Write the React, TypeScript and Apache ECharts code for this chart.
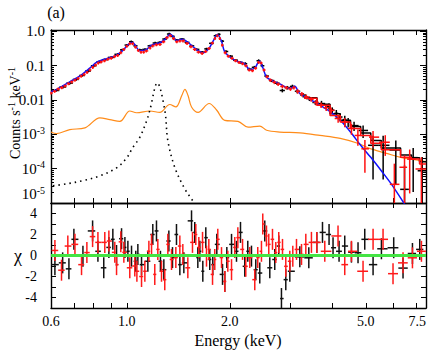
import React, { useEffect, useRef } from 'react';
import * as echarts from 'echarts';

const FONT = 'Liberation Serif, Times New Roman, DejaVu Serif, serif';

// Axis ticks / labels
const energyTicks = [0.7, 0.8, 0.9, 1, 2, 3, 4, 5, 6, 7];
const energyLabels = [0.6, 1.0, 2.0, 5.0, 7.5];
const countDecades = [1e-5, 1e-4, 1e-3, 0.01, 0.1, 1];
const countLabels = ['10{s|-5}', '10{s|-4}', '10{s|-3}', '0.01', '0.1', '1.0'];
const chiLabels = [-4, -2, 0, 2, 4];

// Total model (blue)
const modelE = [0.6, 0.616, 0.637, 0.681, 0.728, 0.779, 0.815, 0.852, 0.89, 0.933, 0.97, 1.0, 1.02, 1.04, 1.06, 1.09, 1.14, 1.18, 1.25, 1.29, 1.34, 1.37, 1.4, 1.45, 1.51, 1.58, 1.67, 1.74, 1.8, 1.84, 1.89, 1.93, 2.0, 2.09, 2.21, 2.29, 2.37, 2.44, 2.5, 2.56, 2.68, 2.8, 2.92, 3.0, 3.1, 3.2, 3.43, 3.67, 3.93, 4.21, 4.51, 4.83, 5.17, 5.55, 5.94, 6.5];
const modelV = [0.0175, 0.019, 0.023, 0.034, 0.05, 0.085, 0.125, 0.15, 0.17, 0.205, 0.27, 0.38, 0.457, 0.479, 0.38, 0.275, 0.295, 0.4, 0.468, 0.575, 0.83, 0.69, 0.537, 0.589, 0.479, 0.324, 0.24, 0.324, 0.589, 0.813, 0.537, 0.263, 0.182, 0.138, 0.115, 0.076, 0.087, 0.138, 0.087, 0.047, 0.0355, 0.0295, 0.0234, 0.0219, 0.0251, 0.0158, 0.0105, 0.0071, 0.00457, 0.00257, 0.00117, 0.00048, 0.000214, 0.000087, 0.0000355, 0.0000091];

// Second component (orange)
const softE = [0.6, 0.623, 0.681, 0.754, 0.834, 0.892, 0.954, 1.02, 1.067, 1.168, 1.249, 1.335, 1.391, 1.45, 1.478, 1.51, 1.546, 1.616, 1.741, 1.83, 1.934, 2.115, 2.262, 2.448, 2.564, 2.8, 3.21, 3.67, 4.21, 4.76, 5.13, 5.75, 6.32, 7.18, 7.5];
const softV = [0.00117, 0.00105, 0.00138, 0.00155, 0.00302, 0.00269, 0.0024, 0.00479, 0.00427, 0.00479, 0.00437, 0.00741, 0.0063, 0.0141, 0.0204, 0.0135, 0.0063, 0.00437, 0.00794, 0.00513, 0.00257, 0.0024, 0.00162, 0.00174, 0.00132, 0.00117, 0.0011, 0.00093, 0.00076, 0.00054, 0.00039, 0.00028, 0.000214, 0.000174, 0.000158];

// Line component (dotted)
const lineE = [0.608, 0.668, 0.743, 0.834, 0.935, 1.0, 1.041, 1.091, 1.144, 1.168, 1.228, 1.291, 1.318, 1.382, 1.478, 1.56, 1.6];
const lineV = [3.16e-5, 3.63e-5, 4.47e-5, 6.17e-5, 1.07e-4, 2.09e-4, 4.17e-4, 8.13e-4, 2.57e-3, 5.13e-3, 0.0316, 5.13e-3, 6.6e-4, 1.07e-4, 2.57e-5, 1.15e-5, 7.9e-6];

// Folded model steps above 3.3 keV
const foldE = [3.3, 3.6, 3.93, 4.21, 4.51, 4.83, 5.17, 5.55, 6.32, 6.8, 7.18, 7.5];
const foldRed = [0.0112, 0.0071, 0.00355, 0.0023, 0.00148, 0.00093, 0.00055, 0.000355, 0.000214, 0.00019, 0.000138, 0.000138];
const foldBlack = [0.0117, 0.0076, 0.004, 0.0026, 0.0017, 0.0011, 0.00066, 0.0004, 0.00025, 0.00021, 0.00016, 0.00016];

// Spectra: [energy keV, counts, relative error]
const blackSpectrum = [
  [0.62, 0.019, 0.1], [0.65, 0.024, 0.1], [0.68, 0.031, 0.1], [0.71, 0.04, 0.1], [0.74, 0.052, 0.08], [0.77, 0.07, 0.08], [0.8, 0.1, 0.08], [0.83, 0.13, 0.08], [0.86, 0.15, 0.08], [0.9, 0.175, 0.08], [0.94, 0.215, 0.08], [0.97, 0.29, 0.08], [1.0, 0.4, 0.08], [1.03, 0.5, 0.08], [1.06, 0.38, 0.08], [1.09, 0.29, 0.08], [1.13, 0.3, 0.08], [1.17, 0.38, 0.08], [1.21, 0.46, 0.08], [1.25, 0.48, 0.08], [1.29, 0.6, 0.08], [1.33, 0.84, 0.08], [1.36, 0.72, 0.08], [1.4, 0.56, 0.08], [1.45, 0.6, 0.08], [1.5, 0.48, 0.08], [1.55, 0.38, 0.08], [1.6, 0.3, 0.08], [1.66, 0.25, 0.08], [1.71, 0.31, 0.08], [1.77, 0.45, 0.08], [1.82, 0.75, 0.08], [1.86, 0.82, 0.08], [1.9, 0.52, 0.08], [1.95, 0.26, 0.08], [2.01, 0.19, 0.08], [2.08, 0.145, 0.08], [2.15, 0.125, 0.08], [2.22, 0.115, 0.1], [2.28, 0.08, 0.1], [2.36, 0.09, 0.1], [2.43, 0.14, 0.1], [2.49, 0.1, 0.1], [2.56, 0.05, 0.1], [2.65, 0.037, 0.1], [2.75, 0.031, 0.12], [2.85, 0.019, 0.12], [2.95, 0.023, 0.12], [3.05, 0.025, 0.12], [3.15, 0.018, 0.12], [3.28, 0.014, 0.15], [3.42, 0.011, 0.15], [3.56, 0.0085, 0.15], [3.71, 0.0079, 0.2], [3.9, 0.0066, 0.2], [3.99, 0.0051, 0.2], [4.1, 0.0041, 0.25], [4.21, 0.0032, 0.25], [4.34, 0.0027, 0.3], [4.44, 0.0023, 0.3], [4.62, 0.0018, 0.3], [4.91, 0.0013, 0.4], [5.25, 0.00048, 0.9], [5.62, 0.00048, 0.9], [6.12, 0.00035, 0.9], [6.49, 0.000025, 4], [6.88, 0.00021, 0.9], [7.31, 0.000087, 1.5],
];
const redSpectrum = [
  [0.6, 0.016, 0.1], [0.615, 0.018, 0.1], [0.63, 0.021, 0.1], [0.645, 0.023, 0.1], [0.66, 0.026, 0.1], [0.675, 0.03, 0.1], [0.69, 0.034, 0.1], [0.705, 0.038, 0.1], [0.72, 0.043, 0.1], [0.735, 0.05, 0.1], [0.75, 0.056, 0.1], [0.765, 0.064, 0.1], [0.78, 0.075, 0.1], [0.795, 0.09, 0.1], [0.81, 0.105, 0.1], [0.825, 0.12, 0.1], [0.84, 0.13, 0.1], [0.86, 0.14, 0.1], [0.88, 0.155, 0.1], [0.9, 0.165, 0.1], [0.92, 0.185, 0.1], [0.94, 0.2, 0.1], [0.96, 0.24, 0.1], [0.98, 0.3, 0.1], [1.0, 0.37, 0.1], [1.02, 0.44, 0.1], [1.04, 0.44, 0.1], [1.06, 0.35, 0.1], [1.08, 0.28, 0.1], [1.1, 0.25, 0.1], [1.12, 0.25, 0.1], [1.14, 0.27, 0.1], [1.17, 0.33, 0.1], [1.19, 0.38, 0.1], [1.22, 0.41, 0.1], [1.25, 0.42, 0.1], [1.28, 0.5, 0.1], [1.31, 0.66, 0.1], [1.34, 0.75, 0.1], [1.37, 0.62, 0.1], [1.4, 0.5, 0.1], [1.43, 0.53, 0.1], [1.46, 0.53, 0.1], [1.5, 0.45, 0.1], [1.54, 0.36, 0.1], [1.58, 0.3, 0.1], [1.62, 0.25, 0.1], [1.66, 0.23, 0.1], [1.7, 0.26, 0.1], [1.74, 0.32, 0.1], [1.78, 0.46, 0.1], [1.81, 0.62, 0.1], [1.84, 0.75, 0.1], [1.87, 0.62, 0.1], [1.9, 0.4, 0.1], [1.94, 0.24, 0.1], [1.98, 0.19, 0.1], [2.03, 0.165, 0.1], [2.08, 0.14, 0.1], [2.13, 0.125, 0.1], [2.18, 0.115, 0.1], [2.23, 0.1, 0.1], [2.28, 0.075, 0.1], [2.33, 0.072, 0.1], [2.38, 0.085, 0.1], [2.43, 0.125, 0.1], [2.47, 0.12, 0.1], [2.52, 0.075, 0.1], [2.57, 0.048, 0.1], [2.63, 0.038, 0.12], [2.7, 0.033, 0.12], [2.77, 0.029, 0.12], [2.85, 0.025, 0.12], [2.93, 0.023, 0.12], [3.01, 0.021, 0.12], [3.08, 0.023, 0.12], [3.16, 0.018, 0.15], [3.25, 0.015, 0.15], [3.35, 0.0125, 0.15], [3.46, 0.0105, 0.15], [3.58, 0.0085, 0.18], [3.7, 0.0072, 0.18], [3.83, 0.006, 0.2], [3.96, 0.005, 0.2], [4.15, 0.0029, 0.25], [4.34, 0.0023, 0.3], [4.54, 0.0015, 0.35], [4.74, 0.00093, 0.5], [4.97, 0.00038, 0.8], [5.25, 0.00083, 0.5], [5.7, 0.00059, 0.6], [6.06, 0.000035, 3], [6.49, 0.00011, 1.2], [6.72, 0.00019, 0.9], [7.27, 0.000098, 1.2],
];

// Residuals (chi)
const blackChiE = [0.616, 0.649, 0.677, 0.7, 0.744, 0.794, 0.823, 0.856, 0.886, 0.91, 0.933, 0.965, 0.987, 1.007, 1.032, 1.062, 1.077, 1.104, 1.152, 1.191, 1.221, 1.254, 1.283, 1.327, 1.36, 1.397, 1.429, 1.468, 1.546, 1.58, 1.613, 1.635, 1.668, 1.702, 1.748, 1.784, 1.833, 1.905, 1.934, 1.961, 2.024, 2.093, 2.15, 2.213, 2.258, 2.315, 2.383, 2.448, 2.532, 2.619, 2.708, 2.782, 2.833, 2.917, 2.997, 3.206, 3.406, 3.594, 3.735, 3.904, 4.01, 4.176, 4.339, 4.539, 4.745, 4.965, 5.251, 5.555, 6.034, 6.425, 6.846, 7.19];
const blackChi = [-0.87, -0.7, -1.27, 1.54, -0.06, 2.34, 0.4, -1.17, 0.77, 1.54, 0, 1.6, 0.77, 0.4, -0.06, -0.55, 0.1, -0.87, -0.55, 2.0, 2.34, -0.55, -1.35, 1.38, -0.2, 2.0, -0.87, -0.7, 3.3, 2.2, -0.2, 0.4, -1.5, 1.7, -0.38, -0.87, 1.06, -1.8, -2.47, -0.2, 1.06, 0.4, 2.2, -1.03, 0.4, -0.06, -1.35, -1.67, 2.34, -1.17, -0.38, 0.9, -4.1, -2.3, -1.5, -0.13, -0.22, 1.25, 2.2, 2.0, 0.74, 0.4, 0.9, 0.32, 0.26, 1.54, -0.87, 0.64, 0.74, -1.2, 0.19, 0.58];
const redChiE = [0.616, 0.644, 0.672, 0.705, 0.737, 0.764, 0.794, 0.823, 0.862, 0.886, 0.922, 0.933, 0.96, 0.98, 1.02, 1.055, 1.07, 1.104, 1.129, 1.16, 1.181, 1.207, 1.232, 1.263, 1.291, 1.318, 1.351, 1.391, 1.429, 1.458, 1.508, 1.556, 1.591, 1.624, 1.665, 1.71, 1.737, 1.781, 1.808, 1.845, 1.892, 1.934, 1.974, 2.024, 2.069, 2.112, 2.18, 2.228, 2.289, 2.367, 2.415, 2.476, 2.498, 2.561, 2.601, 2.667, 2.727, 2.782, 2.853, 2.917, 2.997, 3.058, 3.135, 3.243, 3.338, 3.467, 3.594, 3.793, 4.147, 4.339, 4.539, 4.908, 5.251, 5.616, 6.006, 6.425, 6.846, 7.273];
const redChi = [0.48, -1.4, 0.9, 1.06, -0.87, 0.28, 1.8, 1.25, 1.25, 1.38, 0.3, -0.87, 1.3, 0.3, -1.17, -1.0, -1.5, -2.0, -1.5, 0.4, 1.06, -1.8, 0.58, -1.5, -2.3, 1.06, -0.38, -0.2, 0.9, 0.1, -1.17, 1.25, 2.0, 0.77, 1.25, -0.06, 0.58, -1.8, -0.38, 1.54, -0.2, -2.47, -0.55, -1.35, 0.77, 1.7, 0.58, -1.03, -0.2, -2.3, -0.2, 0.4, 3.0, 1.86, 1.06, 1.54, 0.28, 1.25, 0.58, -1.03, -0.55, -0.06, 0.58, 0.1, 1.06, 1.25, 1.25, 0.4, 1.86, -0.87, 0.4, -1.5, 1.54, 1.54, -1.73, -0.7, -0.22, 0.4];

function binEdges(es: number[]): [number, number][] {
  return es.map((e, i) => {
    const prev = i > 0 ? es[i - 1] : (e * e) / es[i + 1];
    const next = i < es.length - 1 ? es[i + 1] : (e * e) / es[i - 1];
    return [Math.sqrt(prev * e), Math.sqrt(e * next)];
  });
}

function spectrumItems(spec: number[][]) {
  const edges = binEdges(spec.map((d) => d[0]));
  return spec.map((d, i) => [d[0], d[1], edges[i][0], edges[i][1], Math.max(d[1] * (1 - d[2]), 1e-7), d[1] * (1 + d[2])]);
}

function chiItems(es: number[], chi: number[]) {
  const edges = binEdges(es);
  return es.map((e, i) => [e, chi[i], edges[i][0], edges[i][1], chi[i] - 1, chi[i] + 1]);
}

function crossRenderer(color: string, width: number) {
  return (params: any, api: any) => {
    const cs = params.coordSys;
    const top = cs.y, bottom = cs.y + cs.height, left = cs.x, right = cs.x + cs.width;
    const cy = (y: number) => Math.min(bottom, Math.max(top, y));
    const cx = (x: number) => Math.min(right, Math.max(left, x));
    const c = api.coord([api.value(0), api.value(1)]);
    const l = api.coord([api.value(2), api.value(1)]);
    const r = api.coord([api.value(3), api.value(1)]);
    const t = api.coord([api.value(0), api.value(5)]);
    const b = api.coord([api.value(0), api.value(4)]);
    const style = { stroke: color, lineWidth: width };
    const children: any[] = [];
    if (c[1] >= top && c[1] <= bottom) {
      children.push({ type: 'line', shape: { x1: cx(l[0]), y1: c[1], x2: cx(r[0]), y2: c[1] }, style });
    }
    children.push({ type: 'line', shape: { x1: c[0], y1: cy(t[1]), x2: c[0], y2: cy(b[1]) }, style });
    return { type: 'group', children };
  };
}

const minorCounts: number[] = [];
for (let p = -5; p < 0; p++) for (let k = 2; k <= 9; k++) minorCounts.push(k * Math.pow(10, p));

const AXIS_LINE = { lineStyle: { color: '#000', width: 1.4 } };
const TICK_STYLE = { color: '#000', width: 1 };

function energyAxis(grid: number, position: string, labels: boolean) {
  return {
    type: 'log', logBase: 10, gridIndex: grid, position, min: 0.6, max: 7.5,
    axisLine: { show: true, onZero: false, ...AXIS_LINE },
    axisTick: { show: true, inside: true, length: 5, customValues: energyTicks, lineStyle: TICK_STYLE },
    axisLabel: labels
      ? { show: true, customValues: energyLabels, formatter: (v: number) => v.toFixed(1), fontFamily: FONT, fontSize: 14, color: '#000', margin: 6, alignMaxLabel: 'right' }
      : { show: false },
    splitLine: { show: false },
  };
}

function countAxis(position: string, minor: boolean, labels: boolean) {
  return {
    type: 'log', logBase: 10, gridIndex: 0, position, min: 1e-5, max: 1.1,
    axisLine: minor ? { show: false } : { show: true, onZero: false, ...AXIS_LINE },
    axisTick: { show: true, inside: true, length: minor ? 3 : 6, customValues: minor ? minorCounts : countDecades, lineStyle: TICK_STYLE },
    axisLabel: labels
      ? {
          show: true, customValues: countDecades, margin: 6, fontFamily: FONT, fontSize: 15, color: '#000',
          verticalAlignMinLabel: 'bottom',
          formatter: (v: number) => {
            const i = countDecades.findIndex((d) => Math.abs(Math.log10(d) - Math.log10(v)) < 0.01);
            return i >= 0 ? countLabels[i] : '';
          },
          rich: {
            s: { fontFamily: FONT, fontSize: 10, color: '#000', padding: [0, 0, 8, 0] },
          },
        }
      : { show: false },
    splitLine: { show: false },
  };
}

function chiAxis(position: string, labels: boolean) {
  return {
    type: 'value', gridIndex: 1, position, min: -5, max: 5, interval: 1,
    axisLine: { show: true, onZero: false, ...AXIS_LINE },
    axisTick: { show: true, inside: true, length: 5, lineStyle: TICK_STYLE },
    axisLabel: labels
      ? { show: true, margin: 14, fontFamily: FONT, fontSize: 14, color: '#000', formatter: (v: number) => (chiLabels.includes(v) ? String(v) : '') }
      : { show: false },
    splitLine: { show: false },
  };
}

export default function App() {
  const ref = useRef<HTMLDivElement>(null);
  useEffect(() => {
    if (!ref.current) return;
    const chart = echarts.init(ref.current, undefined, { renderer: 'svg' });
    const pair = (es: number[], vs: number[]) => es.map((e, i) => [e, vs[i]]);
    const stepData = (vs: number[]) => foldE.map((e, i) => [e, vs[i]]);
    chart.setOption({
      animation: false,
      textStyle: { fontFamily: FONT },
      grid: [
        { left: 51, top: 30, width: 375, height: 173 },
        { left: 51, top: 203, width: 375, height: 105 },
      ],
      xAxis: [
        energyAxis(0, 'bottom', false),
        energyAxis(0, 'top', false),
        energyAxis(1, 'bottom', true),
        energyAxis(1, 'top', false),
      ],
      yAxis: [
        countAxis('left', false, true),
        countAxis('left', true, false),
        countAxis('right', false, false),
        countAxis('right', true, false),
        chiAxis('left', true),
        chiAxis('right', false),
      ],
      series: [
        { type: 'line', xAxisIndex: 0, yAxisIndex: 0, data: pair(softE, softV), smooth: 0.35, showSymbol: false, symbol: 'none', lineStyle: { color: '#ff8c1a', width: 1.2 }, z: 2, silent: true },
        { type: 'line', xAxisIndex: 0, yAxisIndex: 0, data: pair(lineE, lineV), smooth: 0.35, showSymbol: false, symbol: 'none', lineStyle: { color: '#000', width: 1.6, type: [1.5, 4] }, z: 2, silent: true },
        { type: 'custom', xAxisIndex: 0, yAxisIndex: 0, renderItem: crossRenderer('#000', 1.5), data: spectrumItems(blackSpectrum), encode: { x: 0, y: 1 }, z: 3, silent: true },
        { type: 'line', xAxisIndex: 0, yAxisIndex: 0, data: stepData(foldBlack), step: 'end', showSymbol: false, symbol: 'none', lineStyle: { color: '#000', width: 1.5 }, z: 3, silent: true },
        { type: 'line', xAxisIndex: 0, yAxisIndex: 0, data: pair(modelE, modelV), smooth: 0.3, showSymbol: false, symbol: 'none', lineStyle: { color: '#1010ff', width: 1.5 }, z: 4, silent: true },
        { type: 'custom', xAxisIndex: 0, yAxisIndex: 0, renderItem: crossRenderer('#ff1010', 1.5), data: spectrumItems(redSpectrum), encode: { x: 0, y: 1 }, z: 5, silent: true },
        { type: 'line', xAxisIndex: 0, yAxisIndex: 0, data: stepData(foldRed), step: 'end', showSymbol: false, symbol: 'none', lineStyle: { color: '#ff1010', width: 1.5 }, z: 5, silent: true },
        { type: 'custom', xAxisIndex: 2, yAxisIndex: 4, renderItem: crossRenderer('#111', 1.5), data: chiItems(blackChiE, blackChi), encode: { x: 0, y: 1 }, z: 3, silent: true },
        { type: 'custom', xAxisIndex: 2, yAxisIndex: 4, renderItem: crossRenderer('#ff1a1a', 1.5), data: chiItems(redChiE, redChi), encode: { x: 0, y: 1 }, z: 4, silent: true },
        { type: 'line', xAxisIndex: 2, yAxisIndex: 4, data: [[0.6, 0], [7.5, 0]], showSymbol: false, symbol: 'none', lineStyle: { color: '#44e444', width: 3 }, z: 6, silent: true },
      ],
      graphic: [
        { type: 'text', x: 56, y: 12, style: { text: '(a)', fontFamily: FONT, fontSize: 16, fill: '#000', textAlign: 'center', textVerticalAlign: 'middle' } },
        {
          type: 'text', x: 15, y: 113, rotation: Math.PI / 2,
          style: {
            text: '{a|Counts s}{s|-1}{a| keV}{s|-1}', fill: '#000', textAlign: 'center', textVerticalAlign: 'middle',
            rich: { a: { fontFamily: FONT, fontSize: 14, fill: '#000' }, s: { fontFamily: FONT, fontSize: 10, fill: '#000', padding: [0, 0, 7, 0] } },
          },
        },
        { type: 'text', x: 18, y: 256, style: { text: 'χ', fontFamily: FONT, fontSize: 18, fill: '#000', textAlign: 'center', textVerticalAlign: 'middle' } },
        { type: 'text', x: 238, y: 340, style: { text: 'Energy (keV)', fontFamily: FONT, fontSize: 16, fill: '#000', textAlign: 'center', textVerticalAlign: 'middle' } },
      ],
    });
    return () => chart.dispose();
  }, []);
  return <div ref={ref} style={{ position: 'fixed', left: 0, top: 0, width: 436, height: 352, background: '#fff' }} />;
}
